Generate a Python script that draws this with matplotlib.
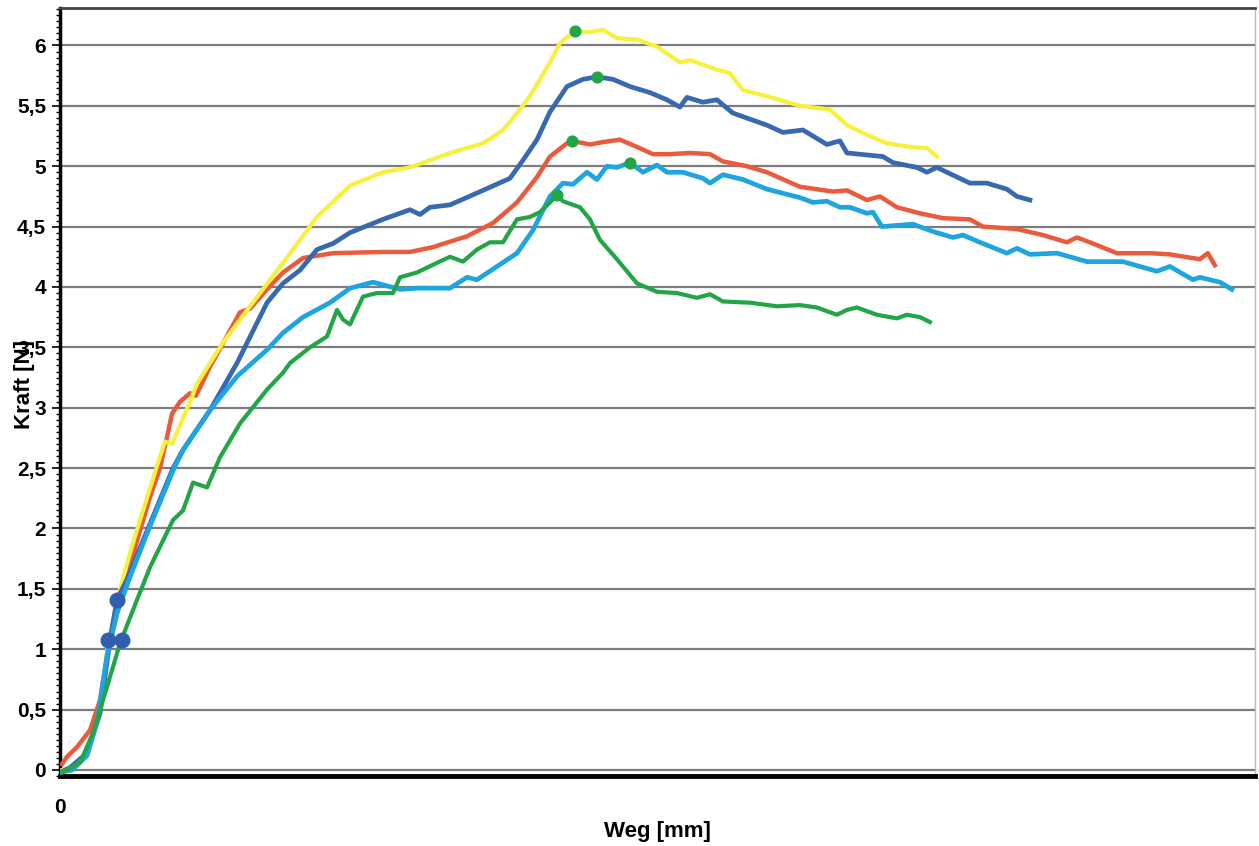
import numpy as np
import matplotlib
matplotlib.use("Agg")
import matplotlib.pyplot as plt
from matplotlib.ticker import MultipleLocator, FuncFormatter

plt.rcParams['font.family'] = ['Liberation Sans', 'DejaVu Sans']

# Weg [mm] / Kraft [N], one pair of lists per sample
weg_gelb = [0.02, 0.13, 0.27, 0.40, 0.48, 0.58, 0.68, 0.77, 0.97, 1.05,
            1.12, 1.30, 1.37, 1.63, 1.90, 2.23, 2.57, 2.90, 3.23, 3.50,
            3.70, 3.90, 4.23, 4.43, 4.57, 4.70, 4.80, 4.90, 5.00, 5.15,
            5.30, 5.43, 5.57, 5.77, 5.97, 6.20, 6.30, 6.57, 6.70, 6.83,
            7.07, 7.40, 7.70, 7.87, 8.07, 8.27, 8.50, 8.67, 8.77]
kraft_gelb = [0.00, 0.02, 0.14, 0.47, 1.05, 1.43, 1.74, 1.99, 2.52, 2.72,
              2.70, 3.05, 3.20, 3.54, 3.84, 4.20, 4.58, 4.84, 4.95, 4.99,
              5.05, 5.11, 5.19, 5.30, 5.44, 5.58, 5.72, 5.86, 6.02, 6.12,
              6.11, 6.13, 6.06, 6.05, 5.99, 5.86, 5.88, 5.80, 5.77, 5.63,
              5.58, 5.50, 5.47, 5.34, 5.26, 5.19, 5.16, 5.15, 5.08]

weg_rot = [0.02, 0.07, 0.17, 0.30, 0.40, 0.48, 0.57, 0.67, 0.77, 0.90,
           1.00, 1.07, 1.12, 1.20, 1.30, 1.36, 1.50, 1.80, 1.90, 2.07,
           2.23, 2.43, 2.73, 3.23, 3.50, 3.73, 4.07, 4.33, 4.57, 4.77,
           4.90, 5.07, 5.12, 5.30, 5.43, 5.60, 5.77, 5.93, 6.10, 6.30,
           6.50, 6.63, 6.87, 7.07, 7.40, 7.73, 7.87, 8.07, 8.20, 8.37,
           8.60, 8.83, 9.10, 9.23, 9.57, 9.83, 10.07, 10.17, 10.30, 10.57,
           10.90, 11.10, 11.40, 11.48, 11.55]
kraft_rot = [0.05, 0.11, 0.19, 0.33, 0.58, 0.99, 1.30, 1.60, 1.90, 2.26,
             2.50, 2.76, 2.95, 3.05, 3.12, 3.10, 3.34, 3.79, 3.82, 3.98,
             4.12, 4.24, 4.28, 4.29, 4.29, 4.33, 4.42, 4.53, 4.70, 4.91,
             5.08, 5.19, 5.21, 5.18, 5.20, 5.22, 5.16, 5.10, 5.10, 5.11,
             5.10, 5.04, 5.00, 4.95, 4.83, 4.79, 4.80, 4.72, 4.75, 4.66,
             4.61, 4.57, 4.56, 4.50, 4.48, 4.43, 4.37, 4.41, 4.37, 4.28,
             4.28, 4.27, 4.23, 4.28, 4.18]

weg_blau = [0.00, 0.10, 0.27, 0.40, 0.50, 0.57, 0.67, 0.88, 1.13, 1.23,
            1.50, 1.77, 2.07, 2.23, 2.40, 2.57, 2.73, 2.90, 3.23, 3.50,
            3.60, 3.70, 3.90, 4.23, 4.50, 4.63, 4.77, 4.90, 5.07, 5.23,
            5.37, 5.53, 5.70, 5.90, 6.07, 6.20, 6.27, 6.43, 6.57, 6.73,
            6.90, 7.07, 7.23, 7.43, 7.67, 7.80, 7.87, 8.23, 8.33, 8.57,
            8.67, 8.77, 8.87, 9.10, 9.27, 9.47, 9.57, 9.70]
kraft_blau = [-0.02, 0.02, 0.14, 0.47, 1.08, 1.41, 1.58, 2.00, 2.50, 2.65,
              2.98, 3.37, 3.87, 4.03, 4.14, 4.31, 4.36, 4.45, 4.56, 4.64,
              4.60, 4.66, 4.68, 4.80, 4.90, 5.05, 5.22, 5.45, 5.66, 5.72,
              5.74, 5.72, 5.66, 5.61, 5.55, 5.49, 5.57, 5.53, 5.55, 5.44,
              5.39, 5.34, 5.28, 5.30, 5.18, 5.21, 5.11, 5.08, 5.03, 4.99,
              4.95, 4.99, 4.95, 4.86, 4.86, 4.81, 4.75, 4.72]

weg_hellblau = [0.00, 0.12, 0.27, 0.37, 0.47, 0.57, 0.70, 0.88, 1.13, 1.23,
                1.50, 1.77, 2.07, 2.23, 2.43, 2.70, 2.90, 3.13, 3.40, 3.57,
                3.90, 4.07, 4.17, 4.37, 4.57, 4.73, 4.90, 5.03, 5.13, 5.27,
                5.37, 5.47, 5.57, 5.70, 5.83, 5.97, 6.07, 6.23, 6.43, 6.50,
                6.63, 6.83, 7.07, 7.40, 7.53, 7.67, 7.80, 7.90, 8.07, 8.13,
                8.22, 8.53, 8.73, 8.93, 9.03, 9.20, 9.47, 9.57, 9.70, 9.97,
                10.27, 10.63, 10.97, 11.10, 11.33, 11.40, 11.60, 11.72]
kraft_hellblau = [-0.02, 0.00, 0.12, 0.40, 0.95, 1.30, 1.60, 1.98, 2.48, 2.65,
                  2.98, 3.26, 3.48, 3.62, 3.75, 3.87, 3.99, 4.04, 3.98, 3.99,
                  3.99, 4.08, 4.06, 4.17, 4.28, 4.47, 4.75, 4.86, 4.85, 4.95,
                  4.89, 5.00, 4.99, 5.03, 4.95, 5.01, 4.95, 4.95, 4.90, 4.86,
                  4.93, 4.89, 4.81, 4.74, 4.70, 4.71, 4.66, 4.66, 4.61, 4.62,
                  4.50, 4.52, 4.46, 4.41, 4.43, 4.37, 4.28, 4.32, 4.27, 4.28,
                  4.21, 4.21, 4.13, 4.17, 4.06, 4.08, 4.04, 3.98]

weg_gruen = [0.02, 0.20, 0.33, 0.47, 0.60, 0.77, 0.90, 1.13, 1.23, 1.33,
             1.47, 1.60, 1.80, 2.07, 2.23, 2.30, 2.50, 2.67, 2.77, 2.83,
             2.90, 3.03, 3.17, 3.33, 3.40, 3.57, 3.77, 3.90, 4.03, 4.17,
             4.30, 4.43, 4.57, 4.70, 4.80, 4.90, 4.97, 5.03, 5.20, 5.30,
             5.40, 5.57, 5.77, 5.97, 6.17, 6.37, 6.50, 6.63, 6.90, 7.17,
             7.40, 7.57, 7.77, 7.87, 7.97, 8.17, 8.37, 8.47, 8.60, 8.70]
kraft_gruen = [-0.02, 0.06, 0.31, 0.69, 1.05, 1.41, 1.68, 2.07, 2.15, 2.38,
               2.34, 2.59, 2.87, 3.15, 3.29, 3.37, 3.50, 3.59, 3.81, 3.73,
               3.69, 3.92, 3.95, 3.95, 4.08, 4.12, 4.20, 4.25, 4.21, 4.31,
               4.37, 4.37, 4.56, 4.58, 4.62, 4.70, 4.76, 4.71, 4.66, 4.56,
               4.39, 4.23, 4.03, 3.96, 3.95, 3.91, 3.94, 3.88, 3.87, 3.84,
               3.85, 3.83, 3.77, 3.81, 3.83, 3.77, 3.74, 3.77, 3.75, 3.71]

# maxima (green dots) and start points (blue dots)
max_weg = [5.15, 5.37, 5.12, 5.70, 4.97]
max_kraft = [6.12, 5.74, 5.21, 5.03, 4.76]
start_weg = [0.57, 0.48, 0.62]
start_kraft = [1.41, 1.08, 1.08]

fig = plt.figure(figsize=(12.59, 8.46), dpi=100)
ax = fig.add_axes([0.0477, 0.0827, 0.949, 0.9078])

ax.set_xlim(0, 11.95)
ax.set_ylim(-0.05, 6.31)

for y in np.arange(0, 6.01, 0.5):
    ax.axhline(y, color='#7d7d7d', lw=1.6, zorder=1)

ax.plot(weg_rot, kraft_rot, color='#ea5a3c', lw=3.2, zorder=3)
ax.plot(weg_gelb, kraft_gelb, color='#f7f03c', lw=3.0, zorder=3)
ax.plot(weg_blau, kraft_blau, color='#3868b0', lw=3.4, zorder=3)
ax.plot(weg_hellblau, kraft_hellblau, color='#1ea4e0', lw=3.4, zorder=3)
ax.plot(weg_gruen, kraft_gruen, color='#22a545', lw=3.0, zorder=3)

ax.scatter(max_weg, max_kraft, s=60, color='#22a545', marker='o', zorder=5)
ax.scatter(start_weg, start_kraft, s=110, color='#2f5fae', marker='o', zorder=5)

ax.yaxis.set_major_locator(MultipleLocator(0.5))
ax.yaxis.set_minor_locator(MultipleLocator(0.05))
ax.yaxis.set_major_formatter(FuncFormatter(lambda v, p: ('%g' % v).replace('.', ',')))
ax.set_xticks([0])
ax.tick_params(axis='y', which='major', length=6, width=1.2, labelsize=15, pad=4)
ax.tick_params(axis='y', which='minor', length=3, width=1.0)
ax.tick_params(axis='x', length=0, labelsize=15, pad=16)
for lab in ax.get_yticklabels() + ax.get_xticklabels():
    lab.set_fontweight('bold')

ax.spines['left'].set_linewidth(2.5)
ax.spines['bottom'].set_linewidth(3.5)
ax.spines['top'].set_linewidth(2.0)
ax.spines['top'].set_color('#444444')
ax.spines['right'].set_color('#bbbbbb')
ax.spines['right'].set_linewidth(1.0)

ax.set_xlabel('Weg [mm]', fontsize=16, fontweight='bold')
ax.xaxis.set_label_coords(0.5, -0.058)
ax.set_ylabel('Kraft [N]', fontsize=16, fontweight='bold')
ax.yaxis.set_label_coords(-0.021, 0.51)

fig.savefig('out.png', dpi=100)
